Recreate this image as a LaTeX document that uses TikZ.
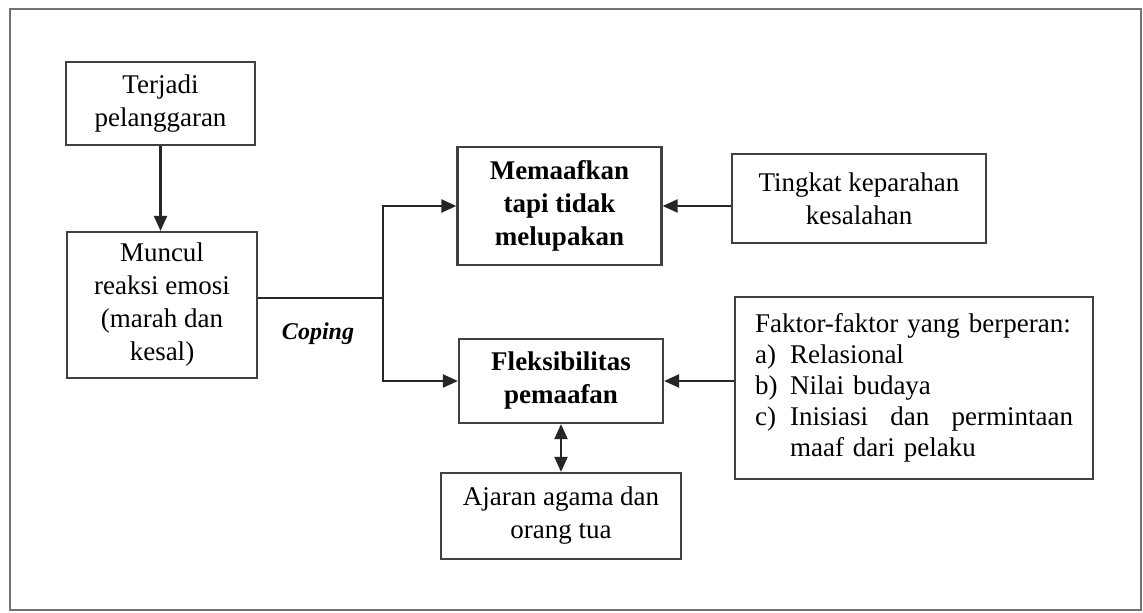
\documentclass[tikz,border=0pt]{standalone}
\usepackage{fontspec}
\setmainfont{Liberation Serif}
\usetikzlibrary{arrows.meta}
\begin{document}
\begin{tikzpicture}[
    x = 0.5pt, y = -0.5pt,
    box/.style = {draw=black!75, line width=1.1pt, align=center, inner sep=2pt,
                  font=\fontsize{13.5}{16.5}\selectfont},
    conn/.style = {draw=black!85, line width=1.1pt},
    tip/.style = {-{Triangle[length=7.5pt,width=6.5pt]}},
  ]
  \useasboundingbox (0,0) rectangle (1143,613);
  \draw[black!55, line width=1.1pt] (10,9) rectangle (1141,610);

  \node[box, minimum width=94.5pt, minimum height=41.5pt] (terjadi) at (160.5,103.5)
    {Terjadi\\pelanggaran};
  \node[box, minimum width=95pt, minimum height=73pt] (muncul) at (162,305)
    {Muncul\\reaksi emosi\\(marah dan\\kesal)};
  \node[box, minimum width=102pt, minimum height=59pt, font=\fontsize{13.5}{16.5}\selectfont\bfseries]
    (memaafkan) at (559.5,206) {Memaafkan\\tapi tidak\\melupakan};
  \node[box, minimum width=102pt, minimum height=42pt, font=\fontsize{13.5}{16.5}\selectfont\bfseries]
    (fleksibel) at (561,381) {Fleksibilitas\\pemaafan};
  \node[box, minimum width=127pt, minimum height=44.5pt] (tingkat) at (859,198.5)
    {Tingkat keparahan\\kesalahan};
  \node[box, minimum width=179pt, minimum height=91pt, text width=159pt, align=left,
        font=\fontsize{13.5}{15.5}\selectfont]
    (faktor) at (914,388)
    {Faktor-faktor yang berperan:\\
     \makebox[17.5pt][l]{a)}Relasional\\
     \makebox[17.5pt][l]{b)}Nilai budaya\\
     \makebox[17.5pt][l]{c)}Inisiasi\hfill dan\hfill permintaan\\
     \hspace*{17.5pt}maaf dari pelaku};
  \node[box, minimum width=120pt, minimum height=43pt] (ajaran) at (561,516)
    {Ajaran agama dan\\orang tua};

  \coordinate (split) at (383,298);
  \node[font=\fontsize{12}{14}\selectfont\bfseries\itshape] (coping) at (318,334) {Coping};

  % connectors
  \draw[conn, tip] (terjadi.south) -- (terjadi.south |- muncul.north);
  \draw[conn] (muncul.east |- split) -- (split);
  \draw[conn, tip] (split) |- (memaafkan.west);
  \draw[conn, tip] (split) |- (fleksibel.west);
  \draw[conn, tip] (memaafkan.east -| tingkat.west) -- (memaafkan.east);
  \draw[conn, tip] (fleksibel.east -| faktor.west) -- (fleksibel.east);
  \draw[conn, {Triangle[length=7.5pt,width=6.5pt]}-{Triangle[length=7.5pt,width=6.5pt]}]
    (fleksibel.south) -- (ajaran.north);
\end{tikzpicture}
\end{document}
